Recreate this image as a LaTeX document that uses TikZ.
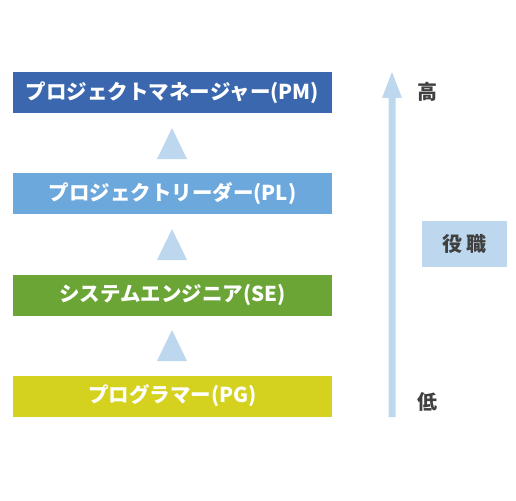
\documentclass[tikz,border=0pt]{standalone}
\usepackage{fontspec}
\usepackage{tikz}
\newfontfamily\jpfont{Noto Sans CJK JP}

\definecolor{pmblue}{RGB}{58,103,174}
\definecolor{plblue}{RGB}{108,168,220}
\definecolor{segreen}{RGB}{106,165,54}
\definecolor{pgyellow}{RGB}{212,209,31}
\definecolor{paleblue}{RGB}{189,215,238}
\definecolor{labelgray}{RGB}{64,64,64}

\tikzset{
  rolebox/.style={minimum width=319pt, minimum height=41pt, inner sep=0pt, text=white, font=\jpfont\bfseries\fontsize{20.5}{20.5}\selectfont},
  upmark/.style={fill=paleblue, draw=none},
  levellabel/.style={text=labelgray, font=\jpfont\bfseries\fontsize{20}{20}\selectfont}
}

\begin{document}
\begin{tikzpicture}[x=1pt,y=1pt,yscale=-1,xscale=1]
\useasboundingbox (0,0) rectangle (516,500); %set diagram size

%Shape: Rectangle
\node [rolebox, fill=pmblue] (pm) at (172.5,92.5) {プロジェクトマネージャー(PM)};
%Shape: Rectangle
\node [rolebox, fill=plblue] (pl) at (172.5,193.5) {プロジェクトリーダー(PL)};
%Shape: Rectangle
\node [rolebox, fill=segreen] (se) at (172.5,295) {システムエンジニア(SE)};
%Shape: Rectangle
\node [rolebox, fill=pgyellow] (pg) at (172.5,396) {プログラマー(PG)};

%Shape: Triangle
\fill [upmark] (157,159) -- (187,159) -- (172,128) -- cycle ;
%Shape: Triangle
\fill [upmark] (157,260) -- (187,260) -- (172,229) -- cycle ;
%Shape: Triangle
\fill [upmark] (157,361) -- (187,361) -- (172,330) -- cycle ;

%Up Arrow
\fill [upmark] (388.5,417) -- (395.5,417) -- (395.5,98) -- (402,98) -- (392,72) -- (382,98) -- (388.5,98) -- cycle ;

% Text Node
\node [levellabel] (high) at (427,92) {高};
% Text Node
\node [levellabel] (low) at (427,402) {低};

%Shape: Rectangle
\node [fill=paleblue, minimum width=85pt, minimum height=46pt, inner sep=0pt, text=labelgray, font=\jpfont\bfseries\fontsize{20}{20}\selectfont] (post) at (464.5,244) {役\,職};

\end{tikzpicture}
\end{document}
